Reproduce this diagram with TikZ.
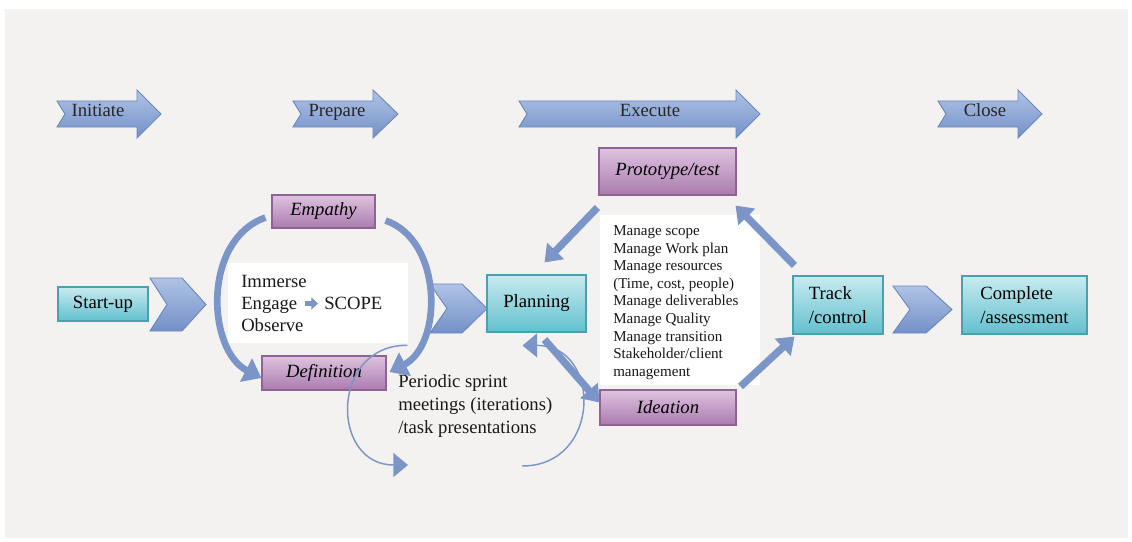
\documentclass[tikz,border=0pt]{standalone}
\usepackage{fontspec}
\setmainfont{Liberation Serif}
\usetikzlibrary{arrows.meta,calc}
\definecolor{bg}{HTML}{F3F2F0}
\definecolor{purpT}{HTML}{DEC3E0}
\definecolor{purpD}{HTML}{AA7BAE}
\definecolor{purpB}{HTML}{8F6393}
\definecolor{tealT}{HTML}{C8EBF0}
\definecolor{tealD}{HTML}{62C0CE}
\definecolor{tealB}{HTML}{4C9FAD}
\definecolor{blueT}{HTML}{B0C3E6}
\definecolor{blueD}{HTML}{7390C7}
\definecolor{blueB}{HTML}{6A88C0}
\definecolor{blueA}{HTML}{7B95C8}
\newcommand\phasearr[4]{%
  \path[phaseshape] (#1,101) -- (#3,101) -- (#3,90) -- (#4,114) -- (#3,138) -- (#3,127) -- (#1,127) -- (#2,114) -- cycle;}
\newcommand\chevshp[6]{%
  \path[phaseshape] (#1,#5) -- (#3,#5) -- (#4,{(#5+#6)/2}) -- (#3,#6) -- (#1,#6) -- (#2,{(#5+#6)/2}) -- cycle;}
\begin{document}
\begin{tikzpicture}[x=0.75pt,y=-0.75pt,
  basefont/.style={font=\fontsize{14}{18}\selectfont},
  phaseshape/.style={draw=blueB, line width=0.7pt, top color=blueT, bottom color=blueD},
  phaselabel/.style={basefont, inner sep=0pt, text=black!85, anchor=base},
  purplebox/.style={draw=purpB, line width=0.8pt, top color=purpT, bottom color=purpD,
    font=\fontsize{14}{18}\selectfont\itshape, inner sep=0pt},
  tealbox/.style={draw=tealB, line width=0.8pt, top color=tealT, bottom color=tealD,
    basefont, align=left, inner sep=0pt},
  whitebox/.style={fill=white, draw=none, inner sep=0pt},
  thickarrow/.style={draw=blueA, line width=5.5pt, -{Triangle[width=17pt,length=12pt]}},
  curvearrow/.style={draw=blueA, line width=5pt, -{Triangle[width=19pt,length=13pt]}},
  thinarc/.style={draw=blueA, line width=1.1pt, -{Triangle[width=18pt,length=11pt]}},
  plaintext/.style={basefont, inner sep=0pt, align=left, text=black!90}
]
\useasboundingbox (0,0) rectangle (1132,542);
\fill[bg] (5,9) rectangle (1128,538);

% phase arrows
\phasearr{57}{65}{137}{161}
\phasearr{293}{301}{373}{398}
\phasearr{519}{527}{736}{760}
\phasearr{938}{946}{1018}{1042}
\node[phaselabel] (initiate) at (98,117) {Initiate};
\node[phaselabel] (prepare) at (337,117) {Prepare};
\node[phaselabel] (execute) at (650,117) {Execute};
\node[phaselabel] (close) at (985,117) {Close};

% chevrons
\chevshp{150}{167}{182}{206}{278}{331}
\chevshp{430}{447}{462}{487}{284}{333}
\chevshp{893}{910}{926}{952}{286}{333}

% white text boxes
\node[whitebox, minimum width=135pt, minimum height=60pt] (scopebox) at (318,303) {};
\node[whitebox, minimum width=120pt, minimum height=127.5pt] (mngbox) at (680,300) {};

% boxes
\node[purplebox, minimum width=102.75pt, minimum height=35.25pt] (proto) at (667.5,171.5) {Prototype/test};
\node[purplebox, minimum width=77.25pt, minimum height=24.75pt] (emp) at (323.5,211.5) {Empathy};
\node[purplebox, minimum width=93pt, minimum height=25.5pt] (def) at (324,373) {Definition};
\node[purplebox, minimum width=102pt, minimum height=26.25pt] (idea) at (668,407.5) {Ideation};
\node[tealbox, minimum width=67.5pt, minimum height=25.5pt] (start) at (103,304) {Start-up};
\node[tealbox, minimum width=74.25pt, minimum height=42.75pt] (plan) at (536.5,303.5) {Planning};
\node[tealbox, minimum width=67.5pt, minimum height=43.5pt] (track) at (838,305) {Track\\/control};
\node[tealbox, minimum width=93.75pt, minimum height=43.5pt] (compl) at (1024.5,305) {Complete\\/assessment};

% texts
\node[plaintext, anchor=west, font=\fontsize{14}{16.2}\selectfont] (iee) at (241,303.5) {Immerse\\Engage\\Observe};
\node[plaintext, anchor=west] (scope) at (324,303) {SCOPE};
\coordinate (smallA) at (305,303.5);
\draw[blueA, line width=3.5pt, -{Triangle[width=9pt,length=5pt]}] (smallA) -- ($(scope.west)+(-6,0.5)$);
\node[plaintext, anchor=west, font=\fontsize{11.3}{13.2}\selectfont] (mng) at (613,302.5)
  {Manage scope\\Manage Work plan\\Manage resources\\(Time, cost, people)\\Manage deliverables\\Manage Quality\\Manage transition\\Stakeholder/client\\management};
\node[plaintext, anchor=west, font=\fontsize{14}{17}\selectfont] (sprint) at (398,406)
  {Periodic sprint\\meetings (iterations)\\/task presentations};

% curved thick arrows
\draw[curvearrow] ($(emp.south west)+(-6,-11)$) .. controls (202,240) and (207,350) .. ($(def.west)+(0,5)$);
\draw[curvearrow] ($(emp.south east)+(10,-8)$) .. controls (443,240) and (443,345) .. ($(def.east)+(3,-1)$);

% straight thick arrows
\draw[thickarrow] ($(proto.south west)+(-1,12)$) -- ($(plan.north)+(8,-12)$);
\draw[thickarrow] ($(track.north west)+(2,-10)$) -- ($(proto.south east)+(-1,10)$);
\draw[thickarrow] ($(idea.north east)+(4,-3)$) -- ($(track.south west)+(2,2)$);
\draw[thickarrow] ($(plan.south)+(8,7)$) -- ($(idea.west)+(0,-5)$);

% thin loop arcs
\coordinate (loopL) at (408,465);
\coordinate (loopR) at (522,466);
\draw[thinarc] ($(scopebox.south east)+(-1,2)$) .. controls (330,345) and (330,465) .. (loopL);
\draw[thinarc] (loopR) .. controls (602,466) and (602,345) .. ($(plan.south)+(-14,13)$);
\end{tikzpicture}
\end{document}
